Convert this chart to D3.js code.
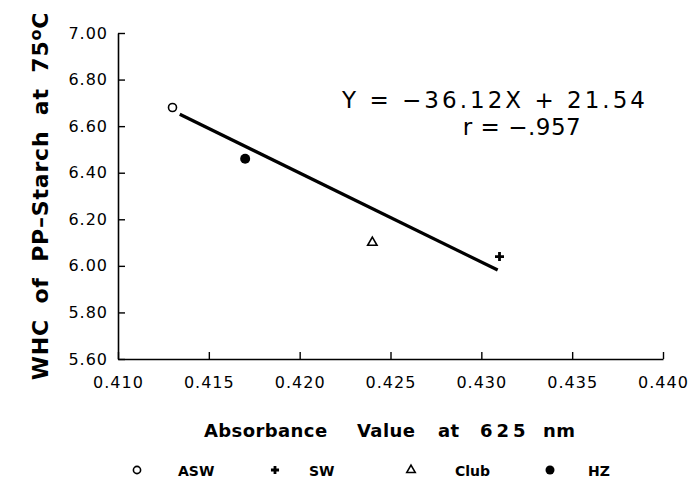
<!DOCTYPE html>
<html>
<head>
<meta charset="utf-8">
<script src="https://cdn.jsdelivr.net/npm/d3@7"></script>
<style>
  html, body { margin: 0; padding: 0; background: #fff; }
  svg { display: block; }
</style>
</head>
<body>
<svg id="chart" width="692" height="478"></svg>
<script>
// ---- data ----
const categories = ["ASW", "SW", "Club", "HZ"];
const absorbance = [0.413, 0.431, 0.424, 0.417];
const whc = [6.68, 6.04, 6.10, 6.46];
const markerTypes = ["openCircle", "plus", "triangle", "filledCircle"];
const fitX = [0.4134, 0.4309];
const fitY = [6.651, 5.982];
const xTicks = [0.410, 0.415, 0.420, 0.425, 0.430, 0.435, 0.440];
const yTicks = [5.60, 5.80, 6.00, 6.20, 6.40, 6.60, 6.80, 7.00];
const equationLines = ["Y = \u221236.12X + 21.54", "r = \u2212.957"];
const xTitle = "Absorbance Value at 625 nm";
const yTitleMain = "WHC of PP\u2013Starch at 75";

const svg = d3.select("#chart");
const x = d3.scaleLinear().domain([0.410, 0.440]).range([118, 663]);
const y = d3.scaleLinear().domain([5.60, 7.00]).range([359, 33]);

const tickFont = "'DejaVu Sans', sans-serif";
const boldFont = "'DejaVu Sans', sans-serif";

// x axis
const gx = svg.append("g").attr("transform", `translate(0,${y(5.60)})`)
  .call(d3.axisBottom(x).tickValues(xTicks).tickFormat(d3.format(".3f"))
        .tickSizeInner(-7).tickSizeOuter(0).tickPadding(18));
// y axis
const gy = svg.append("g").attr("transform", `translate(${x(0.410)},0)`)
  .call(d3.axisLeft(y).tickValues(yTicks).tickFormat(d3.format(".2f"))
        .tickSizeInner(-7).tickSizeOuter(0).tickPadding(10));

[gx, gy].forEach(g => {
  g.select(".domain").attr("stroke", "#000").attr("stroke-width", 1.6);
  g.selectAll(".tick line").attr("stroke", "#000").attr("stroke-width", 1.4);
  g.selectAll(".tick text").attr("fill", "#000")
    .style("font-family", tickFont).style("font-size", "16px")
    .style("letter-spacing", "1px");
});

// regression line
svg.append("path")
  .datum(fitX.map((d, i) => [d, fitY[i]]))
  .attr("d", d3.line().x(d => x(d[0])).y(d => y(d[1])))
  .attr("stroke", "#000").attr("stroke-width", 3.2).attr("fill", "none");

// marker drawing
function drawMarker(g, type, size) {
  const s = size || 1;
  if (type === "openCircle") {
    g.append("circle").attr("r", 4 * s).attr("fill", "#fff")
      .attr("stroke", "#000").attr("stroke-width", 1.6);
  } else if (type === "filledCircle") {
    g.append("circle").attr("r", 5 * s).attr("fill", "#000");
  } else if (type === "triangle") {
    g.append("path").attr("d", d3.symbol(d3.symbolTriangle, 38 * s * s))
      .attr("fill", "#fff").attr("stroke", "#000").attr("stroke-width", 1.6);
  } else if (type === "plus") {
    const a = 4.5 * s;
    g.append("path").attr("d", `M${-a},0H${a}M0,${-a}V${a}`)
      .attr("stroke", "#000").attr("stroke-width", 2.8).attr("fill", "none");
  }
}

categories.forEach((c, i) => {
  const g = svg.append("g")
    .attr("transform", `translate(${x(absorbance[i])},${y(whc[i])})`);
  drawMarker(g, markerTypes[i], 1);
});

// equation
const eq = svg.append("g").style("font-family", "'DejaVu Sans', sans-serif")
  .style("font-size", "23px").attr("fill", "#000");
eq.append("text").attr("x", 342).attr("y", 108)
  .attr("textLength", 303).attr("lengthAdjust", "spacing")
  .text(equationLines[0]);
eq.append("text").attr("x", 522).attr("y", 135).attr("text-anchor", "middle")
  .style("letter-spacing", "0.5px")
  .text(equationLines[1]);

// x title (words placed individually)
const xWordPos = [204, 357, 438, 480, 543];
const xt = svg.append("text").attr("y", 437)
  .style("font-family", boldFont).style("font-weight", "bold")
  .style("font-size", "18px").style("letter-spacing", "0.4px");
xTitle.split(" ").forEach((w, i) => {
  xt.append("tspan").attr("x", xWordPos[i])
    .style("letter-spacing", w === "625" ? "4px" : null).text(w);
});

// y title
const yt = svg.append("text")
  .attr("transform", "translate(48,196) rotate(-90)")
  .attr("text-anchor", "middle")
  .style("font-family", boldFont)
  .style("font-weight", "bold").style("font-size", "22px")
  .style("letter-spacing", "0.8px").style("word-spacing", "7px");
yt.append("tspan").text(yTitleMain);
yt.append("tspan").attr("dy", "-0.42em").style("font-size", "16px").text("o");
yt.append("tspan").attr("dy", "0.31em").text("C");

// legend
const legendX = [137, 275, 411, 550];
const legendTextX = [178, 309, 455, 588];
categories.forEach((c, i) => {
  const g = svg.append("g").attr("transform", `translate(${legendX[i]},470)`);
  drawMarker(g, markerTypes[i], 0.9);
  svg.append("text").attr("x", legendTextX[i]).attr("y", 476)
    .style("font-family", boldFont)
    .style("font-weight", "bold").style("font-size", "14px")
    .text(c);
});
</script>
</body>
</html>
